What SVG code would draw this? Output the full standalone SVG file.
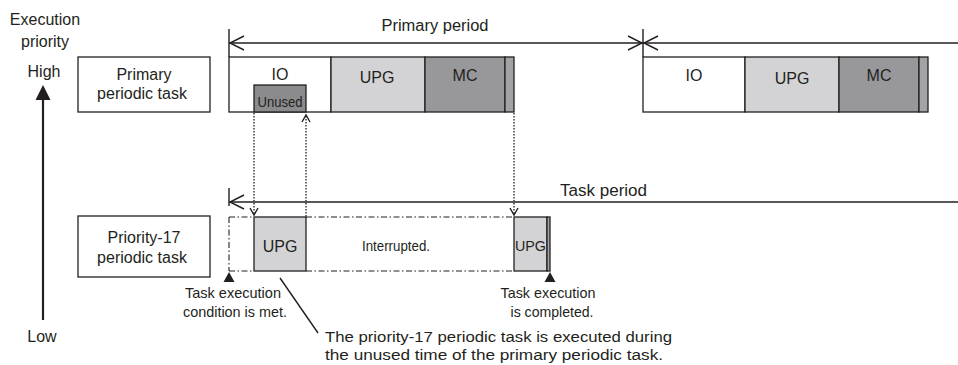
<svg xmlns="http://www.w3.org/2000/svg" width="958" height="365" viewBox="0 0 958 365">
<style>
text{font-family:"Liberation Sans",Arial,sans-serif;fill:#231f20;}
.l{font-size:16px;}
.m{font-size:15px;}
.box{stroke:#231f20;stroke-width:1.3;}
.line{stroke:#231f20;stroke-width:1.4;fill:none;}
.dot{stroke:#231f20;stroke-width:1.3;fill:none;stroke-dasharray:1.4 1.6;}
.dd{stroke:#231f20;stroke-width:1.1;fill:none;stroke-dasharray:6 2.5 1.5 2.5;}
.chev{stroke:#231f20;stroke-width:1.4;fill:none;}
.w{fill:#ffffff;}
.upg{fill:#d3d3d5;}
.mc{fill:#98989b;}
.un{fill:#8b8b8e;}
.st{fill:#a3a3a6;}
</style>
<rect width="958" height="365" fill="#ffffff"/>

<g id="axis">
<text class="l" x="45" y="25" text-anchor="middle">Execution</text>
<text class="l" x="45" y="47" text-anchor="middle">priority</text>
<text class="l" x="44" y="77" text-anchor="middle">High</text>
<text class="l" x="42" y="342" text-anchor="middle">Low</text>
<line x1="43" y1="98" x2="43" y2="320" stroke="#231f20" stroke-width="2.2"/>
<polygon points="43,85 35.5,100 50.5,100" fill="#231f20"/>
</g>

<g id="primary-label">
<rect class="box w" x="78" y="57" width="132" height="55"/>
<text class="l" x="144" y="80" text-anchor="middle">Primary</text>
<text class="l" x="142" y="99" text-anchor="middle">periodic task</text>
</g>

<g id="priority17-label">
<rect class="box w" x="78" y="216" width="132" height="61"/>
<text class="l" x="144" y="243" text-anchor="middle">Priority-17</text>
<text class="l" x="142" y="263" text-anchor="middle">periodic task</text>
</g>

<g id="primary-period">
<text class="l" x="435" y="31" text-anchor="middle" textLength="107" lengthAdjust="spacingAndGlyphs">Primary period</text>
</g>

<g id="primary-task-1">
<rect class="box w" x="229" y="57" width="102" height="55"/>
<rect class="box upg" x="331" y="57" width="94" height="55"/>
<rect class="box mc" x="425" y="57" width="80" height="55"/>
<rect class="box st" x="505" y="57" width="9" height="55"/>
<rect class="box un" x="254" y="85" width="52" height="27"/>
<text class="l" x="280" y="80" text-anchor="middle">IO</text>
<text class="l" x="377" y="83" text-anchor="middle">UPG</text>
<text class="l" x="465" y="81" text-anchor="middle">MC</text>
<text x="280" y="107" text-anchor="middle" font-size="14" textLength="45" lengthAdjust="spacingAndGlyphs">Unused</text>
</g>

<g id="primary-task-2">
<rect class="box w" x="643" y="57" width="102" height="55"/>
<rect class="box upg" x="745" y="57" width="94" height="55"/>
<rect class="box mc" x="839" y="57" width="80" height="55"/>
<rect class="box st" x="919" y="57" width="9" height="55"/>
<text class="l" x="694" y="81" text-anchor="middle">IO</text>
<text class="l" x="792" y="84" text-anchor="middle">UPG</text>
<text class="l" x="879" y="81" text-anchor="middle">MC</text>
</g>

<g id="task-period">
<text class="l" x="560" y="196" textLength="87" lengthAdjust="spacingAndGlyphs">Task period</text>
</g>

<g id="priority17-task">
<rect class="box upg" x="254" y="217" width="52" height="54"/>
<text class="l" x="280" y="252" text-anchor="middle">UPG</text>
<text class="m" x="396" y="251" text-anchor="middle" textLength="68" lengthAdjust="spacingAndGlyphs">Interrupted.</text>
<rect class="box upg" x="514" y="217" width="33" height="54"/>
<rect class="box st" x="547" y="217" width="3" height="54"/>
<text x="530.5" y="251" text-anchor="middle" font-size="15" textLength="31" lengthAdjust="spacingAndGlyphs">UPG</text>
</g>

<g id="annotations">
<polygon points="229,272 223.5,282 234.5,282" fill="#231f20"/>
<polygon points="550,272 544.5,282 555.5,282" fill="#231f20"/>
<text class="m" x="233" y="298" text-anchor="middle" textLength="96" lengthAdjust="spacingAndGlyphs">Task execution</text>
<text class="m" x="235" y="317" text-anchor="middle" textLength="104" lengthAdjust="spacingAndGlyphs">condition is met.</text>
<text class="m" x="548" y="298" text-anchor="middle" textLength="95" lengthAdjust="spacingAndGlyphs">Task execution</text>
<text class="m" x="552" y="317" text-anchor="middle" textLength="83" lengthAdjust="spacingAndGlyphs">is completed.</text>
<text x="325" y="342" font-size="15.5" textLength="347" lengthAdjust="spacingAndGlyphs">The priority-17 periodic task is executed during</text>
<text x="325" y="360" font-size="15.5" textLength="338" lengthAdjust="spacingAndGlyphs">the unused time of the primary periodic task.</text>
</g>

<g id="connectors">
<line class="line" x1="229" y1="43" x2="958" y2="43"/>
<line class="line" x1="229" y1="29" x2="229" y2="57"/>
<line class="line" x1="643" y1="29" x2="643" y2="57"/>
<polyline class="chev" points="244,36 230,43 244,50"/>
<polyline class="chev" points="628,36 642,43 628,50"/>
<polyline class="chev" points="658,36 644,43 658,50"/>
<line class="line" x1="229" y1="202" x2="958" y2="202"/>
<line class="line" x1="229" y1="188" x2="229" y2="206"/>
<polyline class="chev" points="244,195 230,202 244,209"/>
<line class="dot" x1="254" y1="113" x2="254" y2="214"/>
<polyline class="chev" stroke-width="1.2" points="250,208 254,215 258,208"/>
<line class="dot" x1="306" y1="116" x2="306" y2="217"/>
<polyline class="chev" stroke-width="1.2" points="302,122 306,115 310,122"/>
<line class="dot" x1="514" y1="113" x2="514" y2="214"/>
<polyline class="chev" stroke-width="1.2" points="510,208 514,215 518,208"/>
<line class="dd" x1="229" y1="217" x2="254" y2="217"/>
<line class="dd" x1="306" y1="217" x2="514" y2="217"/>
<line class="dd" x1="229" y1="271" x2="254" y2="271"/>
<line class="dd" x1="306" y1="271" x2="514" y2="271"/>
<line class="dd" x1="229" y1="217" x2="229" y2="271"/>
<line class="line" x1="280" y1="278" x2="318" y2="333"/>
</g>
</svg>
